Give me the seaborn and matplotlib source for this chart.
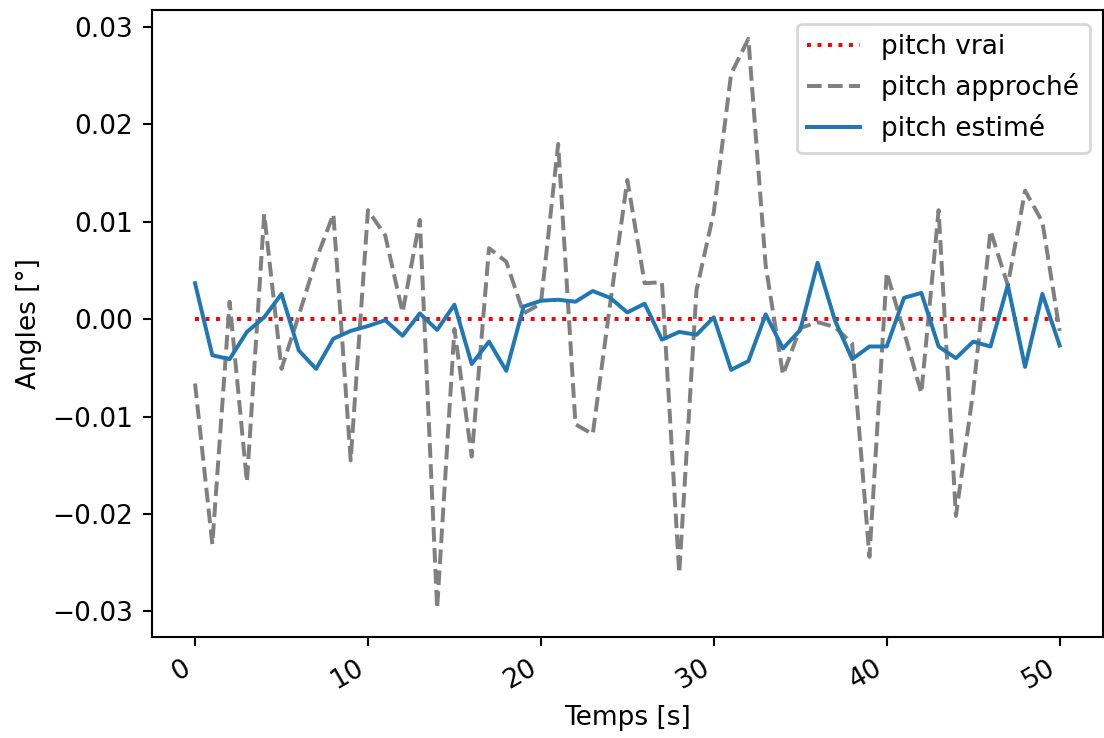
import numpy as np
import pandas as pd
import matplotlib
matplotlib.use("Agg")
import matplotlib.pyplot as plt
import seaborn as sns

temps = list(range(51))

pitch_vrai = [0.0] * 51

pitch_approche = [
    -0.0066, -0.0231, 0.0018, -0.0167, 0.0108, -0.0051, 0.0004, 0.0061, 0.0108, -0.0145,
    0.0112, 0.0086, 0.0007, 0.0102, -0.0297, -0.0010, -0.0141, 0.0073, 0.0059, 0.0006,
    0.0016, 0.0180, -0.0108, -0.0118, 0.0015, 0.0143, 0.0037, 0.0038, -0.0261, 0.0030,
    0.0110, 0.0252, 0.0288, 0.0055, -0.0057, -0.0009, -0.0003, -0.0008, -0.0025, -0.0244,
    0.0048, -0.0013, -0.0076, 0.0112, -0.0202, -0.0074, 0.0091, 0.0035, 0.0132, 0.0100,
    -0.0012,
]

pitch_estime = [
    0.0037, -0.0037, -0.0041, -0.0013, 0.0002, 0.0026, -0.0032, -0.0051, -0.0020, -0.0012,
    -0.0007, -0.0001, -0.0017, 0.0006, -0.0011, 0.0015, -0.0046, -0.0023, -0.0053, 0.0013,
    0.0019, 0.0020, 0.0018, 0.0029, 0.0022, 0.0007, 0.0016, -0.0021, -0.0013, -0.0016,
    0.0002, -0.0052, -0.0043, 0.0005, -0.0030, -0.0011, 0.0058, -0.0001, -0.0041, -0.0028,
    -0.0028, 0.0022, 0.0027, -0.0028, -0.0040, -0.0023, -0.0028, 0.0035, -0.0049, 0.0026,
    -0.0027,
]

labels = ["pitch vrai", "pitch approché", "pitch estimé"]

DPI = 190
fig, ax = plt.subplots(figsize=(1104 / DPI, 738 / DPI), dpi=DPI)
fig.subplots_adjust(left=0.1375, right=0.999, top=0.986, bottom=0.137)

sns.lineplot(x=temps, y=pitch_vrai, ax=ax, color="red", linestyle=":", label=labels[0])
sns.lineplot(x=temps, y=pitch_approche, ax=ax, color="grey", linestyle="--", label=labels[1])
sns.lineplot(x=temps, y=pitch_estime, ax=ax, color="#1f77b4", linestyle="-", label=labels[2])

ax.set_xlabel("Temps [s]")
ax.set_ylabel("Angles [°]")
ax.set_yticks([-0.03, -0.02, -0.01, 0.0, 0.01, 0.02, 0.03])
ax.set_yticklabels(["\u22120.03", "\u22120.02", "\u22120.01", "0.00", "0.01", "0.02", "0.03"])
ax.set_xticks([0, 10, 20, 30, 40, 50])
plt.setp(ax.get_xticklabels(), rotation=30, ha="right")
ax.legend(loc="upper right")

fig.savefig("out.png", dpi=DPI)
